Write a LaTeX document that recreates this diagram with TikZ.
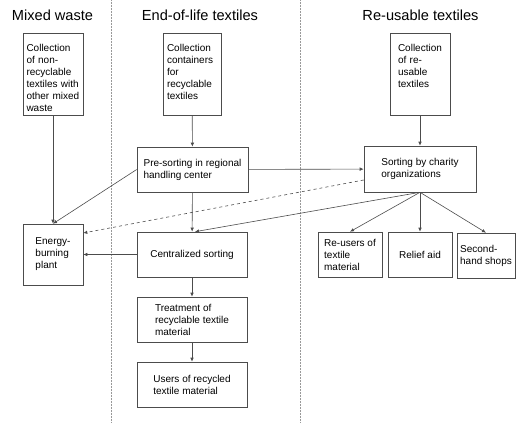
\documentclass[tikz,border=0pt]{standalone}
\usepackage{fontspec}
\setmainfont{Liberation Sans}
\usetikzlibrary{arrows.meta}

\begin{document}
\begin{tikzpicture}[x=1pt,y=-1pt,
  >={Latex[length=4pt,width=3.5pt]},->,
  line width=0.6pt,draw=black!70,
  box/.style={draw=black!70,align=left,font=\fontsize{10}{12}\selectfont,inner sep=2pt},
  colbox/.style={box,inner ysep=3pt,text height=15pt,text depth=61pt},
  title/.style={font=\fontsize{14.6}{17}\selectfont}]
\useasboundingbox (0,0) rectangle (516,423);

% column headings and dividers
\node[title] (tmix) at (52.5,15) {Mixed waste};
\node[title] (teol) at (200,15) {End-of-life textiles};
\node[title] (treu) at (420.5,15) {Re-usable textiles};
\draw[-,gray!80,densely dotted,line width=0.5pt] (111,0) -- (111,423);
\draw[-,gray!80,densely dotted,line width=0.5pt] (300,0) -- (300,423);

% mixed waste
\node[colbox,text width=53pt,inner xsep=3.5pt] (mixcoll) at (53,74) {Collection\\of non-\\recyclable\\textiles with\\other mixed\\waste};
\node[box,minimum width=60pt,minimum height=61pt] (energy) at (53,254.5) {Energy-\\burning\\plant};

% end-of-life textiles
\node[colbox,text width=50pt,inner xsep=4pt] (eolcoll) at (192,74) {Collection\\containers\\for\\recyclable\\textiles};
\node[box,minimum width=111pt,minimum height=45pt] (presort) at (192.5,169.5) {Pre-sorting in regional\\handling center};
\node[box,minimum width=110pt,minimum height=45pt] (central) at (192,254.5) {Centralized sorting};
\node[box,minimum width=110pt,minimum height=45pt] (treat) at (192,319.5) {Treatment of\\recyclable textile\\material};
\node[box,minimum width=110pt,minimum height=45pt] (users) at (192,384.5) {Users of recycled\\textile material};

% re-usable textiles
\node[colbox,text width=44pt,inner xsep=8pt] (reucoll) at (420,74) {Collection\\of re-\\usable\\textiles};
\node[box,minimum width=112pt,minimum height=46pt] (charity) at (420,169) {Sorting by charity\\organizations};
\node[box,minimum width=64pt,minimum height=45pt] (reusers) at (350,254.5) {Re-users of\\textile\\material};
\node[box,minimum width=64pt,minimum height=45pt] (relief) at (420,254.5) {Relief aid};
\node[box,minimum width=58pt,minimum height=45pt] (second) at (486,255.5) {Second-\\hand shops};

\draw (mixcoll) to (energy);
\draw (presort.west) to (energy.north);
\draw[dashed] ([yshift=-11pt]charity.west) to ([yshift=21.5pt]energy.east);
\draw (central) to (energy);

\draw (eolcoll) to (presort);
\draw (presort) to (central);
\draw (presort) to (charity);
\draw (central) to (treat);
\draw (treat) to (users);

\draw (reucoll) to (charity);
\draw (charity.south) to ([xshift=3pt]central.north);
\draw (charity.south) to (reusers.north);
\draw (charity.south) to (relief.north);
\draw (charity.south) to (second.north);

\end{tikzpicture}
\end{document}
